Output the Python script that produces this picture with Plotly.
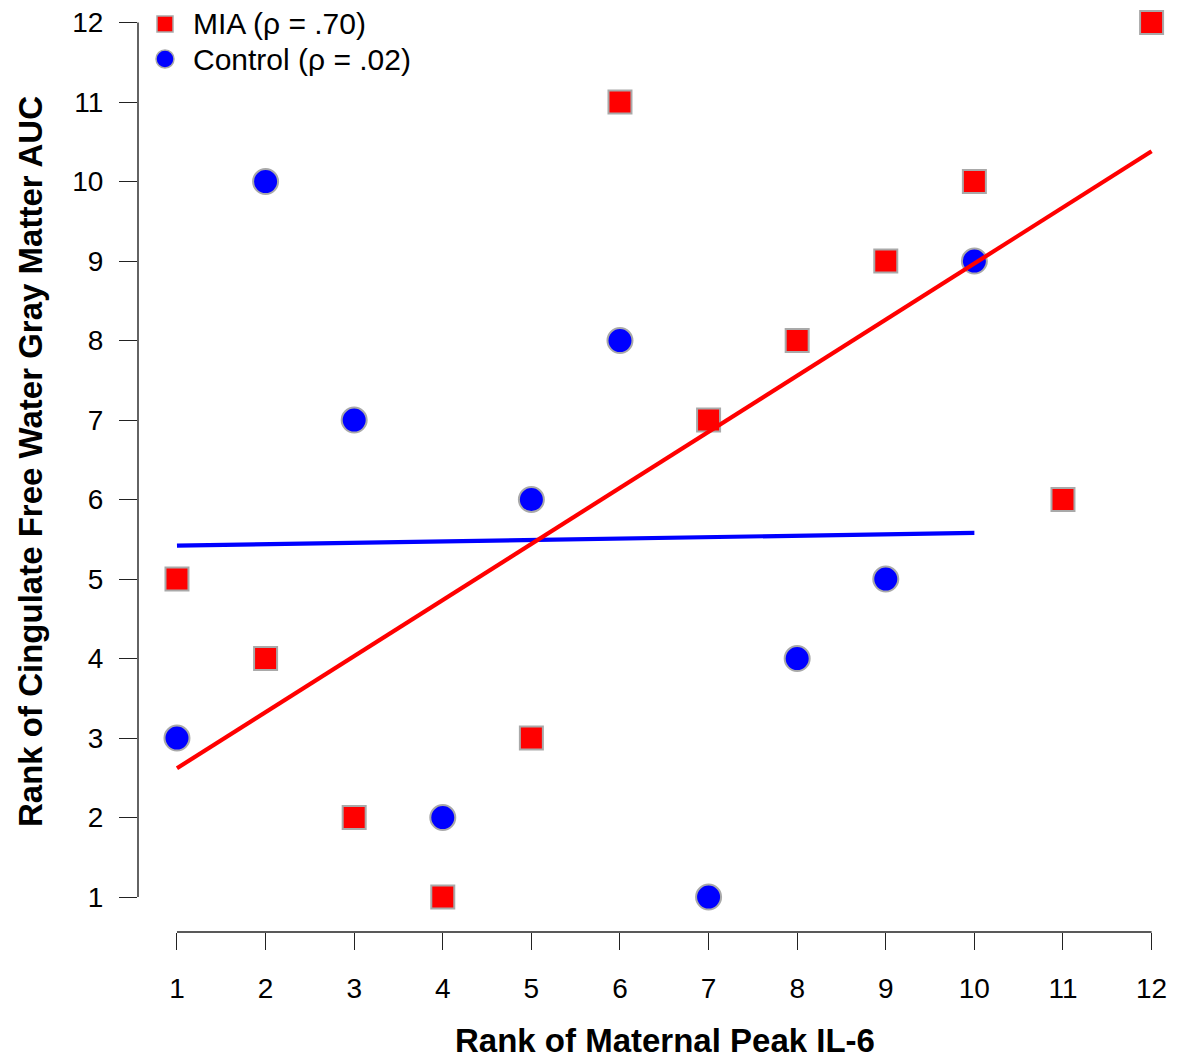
import plotly.graph_objects as go

# Data
mia_x = [1, 2, 3, 4, 5, 6, 7, 8, 9, 10, 11, 12]
mia_y = [5, 4, 2, 1, 3, 11, 7, 8, 9, 10, 6, 12]
ctrl_x = [1, 2, 3, 4, 5, 6, 7, 8, 9, 10]
ctrl_y = [3, 10, 7, 2, 6, 8, 1, 4, 5, 9]
mia_fit_x = [1, 12]
mia_fit_y = [2.62, 10.38]
ctrl_fit_x = [1, 10]
ctrl_fit_y = [5.42, 5.58]
tick_vals = list(range(1, 13))
legend_labels = ["MIA (\u03c1 = .70)", "Control (\u03c1 = .02)"]
x_title = "Rank of Maternal Peak IL-6"
y_title = "Rank of Cingulate Free Water Gray Matter AUC"

FONT = "Liberation Sans, Arial, sans-serif"
RED = "#ff0000"
BLUE = "#0000ff"
GREY = "#a9a9a9"

fig = go.Figure()
fig.add_trace(go.Scatter(x=mia_x, y=mia_y, mode="markers",
                         marker=dict(symbol="square", size=23, color=RED,
                                     line=dict(color=GREY, width=2)),
                         cliponaxis=False, showlegend=False))
fig.add_trace(go.Scatter(x=ctrl_x, y=ctrl_y, mode="markers",
                         marker=dict(symbol="circle", size=25, color=BLUE,
                                     line=dict(color=GREY, width=2)),
                         cliponaxis=False, showlegend=False))
fig.add_trace(go.Scatter(x=ctrl_fit_x, y=ctrl_fit_y, mode="lines",
                         line=dict(color=BLUE, width=4.2), showlegend=False))
fig.add_trace(go.Scatter(x=mia_fit_x, y=mia_fit_y, mode="lines",
                         line=dict(color=RED, width=4.2), showlegend=False))

W, H = 1183, 1059
L, R, T, B = 138, 0, 0, 127
pw, ph = W - L - R, H - T - B
xr = [0.56, 0.56 + pw / 88.6]
yr = [0.56, 0.56 + ph / 79.5]

def px2x(p):
    return (p - L) / pw

def px2y(p):
    return 1 - (p - T) / ph

shapes = [
    dict(type="line", xref="paper", yref="y", x0=0, x1=0, y0=1, y1=12,
         line=dict(color="#222222", width=1.4)),
    dict(type="line", xref="x", yref="paper", x0=1, x1=12, y0=0, y1=0,
         line=dict(color="#222222", width=1.4)),
    dict(type="rect", xref="paper", yref="paper", xsizemode="pixel", ysizemode="pixel",
         xanchor=px2x(165), yanchor=px2y(24), x0=-8, x1=8, y0=-8, y1=8,
         fillcolor=RED, line=dict(color=GREY, width=1.5)),
    dict(type="circle", xref="paper", yref="paper", xsizemode="pixel", ysizemode="pixel",
         xanchor=px2x(165), yanchor=px2y(59), x0=-9, x1=9, y0=-9, y1=9,
         fillcolor=BLUE, line=dict(color=GREY, width=1.5)),
]

annotations = [
    dict(text=legend_labels[0], xref="paper", yref="paper", x=px2x(191), y=px2y(24),
         xanchor="left", yanchor="middle", showarrow=False,
         font=dict(family=FONT, size=30, color="black")),
    dict(text=legend_labels[1], xref="paper", yref="paper", x=px2x(191), y=px2y(60),
         xanchor="left", yanchor="middle", showarrow=False,
         font=dict(family=FONT, size=30, color="black")),
    dict(text="<b>" + x_title + "</b>", xref="paper", yref="paper", x=px2x(665), y=px2y(1040),
         xanchor="center", yanchor="middle", showarrow=False,
         font=dict(family=FONT, size=33, color="black")),
    dict(text="<b>" + y_title + "</b>", xref="paper", yref="paper", x=px2x(30), y=px2y(462),
         xanchor="center", yanchor="middle", showarrow=False, textangle=-90,
         font=dict(family=FONT, size=33, color="black")),
]

fig.update_layout(
    width=W, height=H,
    margin=dict(l=L, r=R, t=T, b=B, pad=0),
    paper_bgcolor="white", plot_bgcolor="white",
    shapes=shapes, annotations=annotations,
    xaxis=dict(range=xr, tickvals=tick_vals, ticks="outside", ticklen=17, tickwidth=1.4,
               tickcolor="#222222", showgrid=False, zeroline=False, showline=False,
               tickfont=dict(family=FONT, size=28, color="black"), ticklabelstandoff=14),
    yaxis=dict(range=yr, tickvals=tick_vals, ticks="outside", ticklen=18, tickwidth=1.4,
               tickcolor="#222222", showgrid=False, zeroline=False, showline=False,
               tickfont=dict(family=FONT, size=28, color="black"), ticklabelstandoff=10),
)

fig.write_html("out.html", config={"displayModeBar": False},
               post_script="document.body.style.margin='0px';document.body.style.overflow='hidden';")
